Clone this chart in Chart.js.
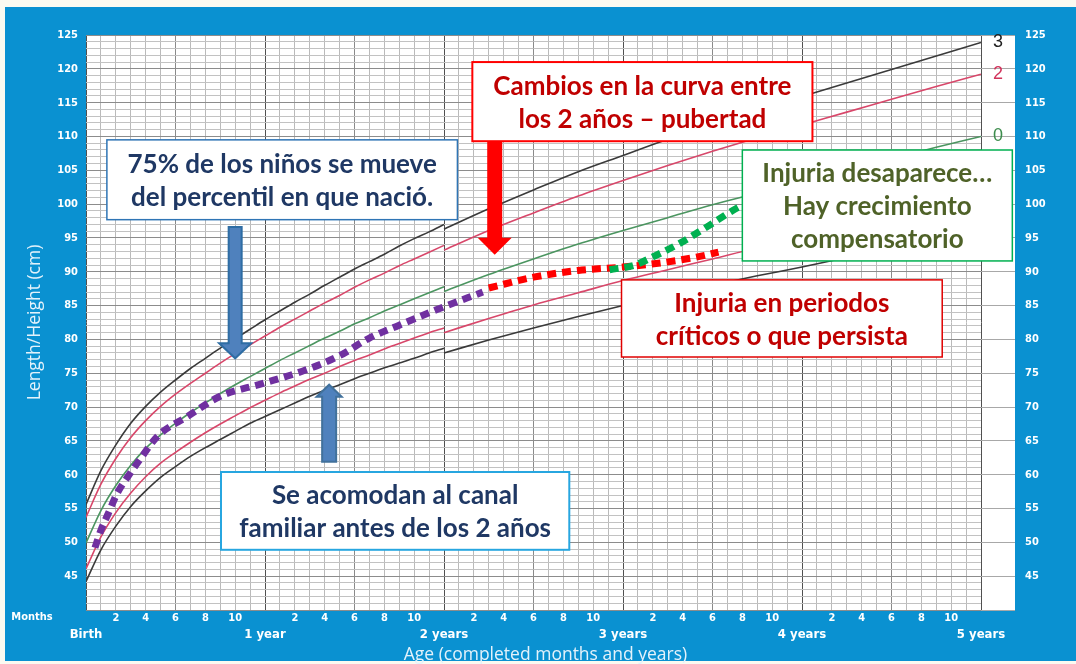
<!DOCTYPE html>
<html>
<head>
<meta charset="utf-8">
<script src="https://cdn.jsdelivr.net/npm/chart.js@4.4.0/dist/chart.umd.min.js"></script>
<style>
  html, body { margin: 0; padding: 0; background: #fbfaf1; }
</style>
</head>
<body>
<canvas id="chart" width="1076" height="664"></canvas>
<script>
// length (0-24 months) and height (24-60 months), z-score curves
var ageLength = [0,1,2,3,4,5,6,7,8,9,10,11,12,13,14,15,16,17,18,19,20,21,22,23,24];
var ageHeight = [24,27,30,33,36,39,42,45,48,51,54,57,60];

var neg3Length = [44.2,48.9,52.4,55.3,57.6,59.6,61.2,62.7,64.0,65.2,66.4,67.6,68.6,69.6,70.6,71.6,72.5,73.3,74.2,75.0,75.8,76.5,77.2,78.0,78.7];
var neg2Length = [46.1,50.8,54.4,57.3,59.7,61.7,63.3,64.8,66.2,67.5,68.7,69.9,71.0,72.1,73.1,74.1,75.0,76.0,76.9,77.7,78.6,79.4,80.2,81.0,81.7];
var zeroLength = [49.9,54.7,58.4,61.4,63.9,65.9,67.6,69.2,70.6,72.0,73.3,74.5,75.7,76.9,78.0,79.1,80.2,81.2,82.3,83.2,84.2,85.1,86.0,86.9,87.8];
var pos2Length = [53.7,58.6,62.4,65.5,68.0,70.1,71.9,73.5,75.0,76.5,77.9,79.2,80.5,81.8,83.0,84.2,85.4,86.5,87.7,88.8,89.8,90.9,91.9,92.9,93.9];
var pos3Length = [55.6,60.6,64.4,67.6,70.1,72.2,74.0,75.7,77.2,78.7,80.1,81.5,82.9,84.2,85.5,86.7,88.0,89.2,90.4,91.5,92.6,93.8,94.9,95.9,97.0];

var neg3Height = [78.0,79.9,81.7,83.4,85.0,86.5,88.0,89.4,90.7,92.1,93.4,94.8,96.1];
var neg2Height = [81.0,83.1,85.1,86.9,88.7,90.3,91.9,93.5,94.9,96.4,97.8,99.3,100.7];
var zeroHeight = [87.1,89.6,91.9,94.1,96.1,98.0,99.9,101.6,103.3,105.0,106.7,108.4,110.0];
var pos2Height = [93.2,96.1,98.7,101.2,103.5,105.7,107.8,109.8,111.7,113.6,115.5,117.4,119.2];
var pos3Height = [96.3,99.3,102.1,104.8,107.2,109.6,111.7,113.9,115.9,117.9,119.9,121.9,123.9];

// child trajectories drawn over the chart
var followAge = [0.6,1.0,1.5,2.1,2.8,3.6,4.8,6.8,9.0,11.7,14.5,17.0,19.0,21.0,23.4,26.6];
var followCm  = [49.2,51.8,54.3,57.3,59.7,62.2,65.7,68.6,71.6,73.4,75.3,77.6,80.2,82.1,84.3,87.0];
var injuryAge = [27.0,30.0,33.0,36.0,38.5,41.0,42.4];
var injuryCm  = [87.6,89.2,90.2,90.7,91.3,92.2,92.9];
var catchAge  = [35.1,36.8,38.0,39.8,41.6,43.8,44.6];
var catchCm   = [90.3,91.0,92.2,94.2,96.6,99.6,100.3];

var yTicks = [45,50,55,60,65,70,75,80,85,90,95,100,105,110,115,120,125];

var BLUE = '#0a91d1';
var STRIP = 34;

function curve(lenVals, hgtVals) {
  var pts = ageLength.map(function (a, i) { return {x: a, y: lenVals[i]}; });
  pts.push({x: 24, y: null});
  return pts.concat(ageHeight.map(function (a, i) { return {x: a, y: hgtVals[i]}; }));
}
function path(ages, vals) {
  return ages.map(function (a, i) { return {x: a, y: vals[i]}; });
}
function line(label, data, color) {
  return {label: label, data: data, borderColor: color, borderWidth: 1.6, pointRadius: 0,
          cubicInterpolationMode: 'monotone', order: 2};
}
function dashed(label, data, color) {
  return {label: label, data: data, borderColor: color, borderWidth: 7, borderDash: [9, 6],
          pointRadius: 0, cubicInterpolationMode: 'monotone', order: 1};
}

var notes = [
  {x0: 1.4, x1: 24.9, y0: 109.5, y1: 97.7, border: '#2f75b5', bw: 1.5, color: '#1f3864',
   lines: ['75% de los niños se mueve', 'del percentil en que nació.']},
  {x0: 25.9, x1: 48.7, y0: 121.0, y1: 109.3, border: '#ff0000', bw: 2, color: '#c00000',
   lines: ['Cambios en la curva entre', 'los 2 años – pubertad']},
  {x0: 44.0, x1: 62.1, y0: 108.0, y1: 91.6, border: '#00b050', bw: 1.5, color: '#4f6228',
   lines: ['Injuria desaparece…', 'Hay crecimiento', 'compensatorio']},
  {x0: 35.9, x1: 57.4, y0: 88.8, y1: 77.4, border: '#e00000', bw: 1.5, color: '#c00000',
   lines: ['Injuria en periodos', 'críticos o que persista']},
  {x0: 9.05, x1: 32.4, y0: 60.4, y1: 48.9, border: '#27a6e0', bw: 2, color: '#1f3864',
   lines: ['Se acomodan al canal', 'familiar antes de los 2 años']}
];
var arrows = [
  {x: 10.0, from: 96.6, to: 77.2, shaft: 13, head: 32, headLen: 15, fill: '#4f81bd', stroke: '#2e6da4'},
  {x: 16.3, from: 61.9, to: 73.3, shaft: 14, head: 25, headLen: 12, fill: '#4f81bd', stroke: '#41719c'},
  {x: 27.4, from: 112.1, to: 92.5, shaft: 15, head: 34, headLen: 17, fill: '#ff0000', stroke: null}
];
var endLabels = [
  {text: '3', value: pos3Height[pos3Height.length - 1], color: '#222222'},
  {text: '2', value: pos2Height[pos2Height.length - 1], color: '#d1335b'},
  {text: '0', value: zeroHeight[zeroHeight.length - 1], color: '#3c8c4c'}
];

var framePlugin = {
  id: 'frame',
  beforeDraw: function (chart) {
    var ctx = chart.ctx, a = chart.chartArea;
    ctx.save();
    ctx.fillStyle = '#fbfaf1';
    ctx.fillRect(0, 0, chart.width, chart.height);
    ctx.fillStyle = BLUE;
    ctx.fillRect(5, 7, chart.width - 5, chart.height - 10);
    ctx.fillStyle = '#ffffff';
    ctx.fillRect(a.left, a.top, a.right - a.left + STRIP, a.bottom - a.top);
    ctx.restore();
  }
};

function drawArrow(ctx, x, yFrom, yTo, sw, hw, hl, fill, stroke) {
  var dir = yTo > yFrom ? 1 : -1;
  var yb = yTo - dir * hl;
  ctx.beginPath();
  ctx.moveTo(x - sw / 2, yFrom);
  ctx.lineTo(x + sw / 2, yFrom);
  ctx.lineTo(x + sw / 2, yb);
  ctx.lineTo(x + hw / 2, yb);
  ctx.lineTo(x, yTo);
  ctx.lineTo(x - hw / 2, yb);
  ctx.lineTo(x - sw / 2, yb);
  ctx.closePath();
  ctx.fillStyle = fill;
  ctx.fill();
  if (stroke) { ctx.strokeStyle = stroke; ctx.lineWidth = 2; ctx.stroke(); }
}

var notesPlugin = {
  id: 'notes',
  afterDatasetsDraw: function (chart) {
    var ctx = chart.ctx, xs = chart.scales.x, ys = chart.scales.y;
    ctx.save();
    endLabels.forEach(function (l) {
      ctx.font = '18px "Liberation Sans", Arial, sans-serif';
      ctx.fillStyle = l.color;
      ctx.textAlign = 'center';
      ctx.textBaseline = 'middle';
      ctx.fillText(l.text, xs.getPixelForValue(60) + 17, ys.getPixelForValue(l.value));
    });
    arrows.forEach(function (r) {
      drawArrow(ctx, xs.getPixelForValue(r.x), ys.getPixelForValue(r.from), ys.getPixelForValue(r.to),
                r.shaft, r.head, r.headLen, r.fill, r.stroke);
    });
    notes.forEach(function (n) {
      var x0 = xs.getPixelForValue(n.x0), x1 = xs.getPixelForValue(n.x1);
      var y0 = ys.getPixelForValue(n.y0), y1 = ys.getPixelForValue(n.y1);
      ctx.fillStyle = '#ffffff';
      ctx.fillRect(x0, y0, x1 - x0, y1 - y0);
      ctx.strokeStyle = n.border;
      ctx.lineWidth = n.bw;
      ctx.strokeRect(x0, y0, x1 - x0, y1 - y0);
      ctx.fillStyle = n.color;
      ctx.font = 'bold 26px Lato, sans-serif';
      ctx.textAlign = 'center';
      ctx.textBaseline = 'middle';
      var cy = (y0 + y1) / 2 + 1.5, lh = 33;
      n.lines.forEach(function (t, i) {
        ctx.fillText(t, (x0 + x1) / 2, cy + (i - (n.lines.length - 1) / 2) * lh);
      });
    });
    // axis captions
    ctx.fillStyle = '#ffffff';
    ctx.font = 'bold 11px "Liberation Sans Narrow", "DejaVu Sans Condensed", sans-serif';
    ctx.textAlign = 'center';
    ctx.textBaseline = 'middle';
    ctx.fillText('Months', 32, xs.top + 7);
    ctx.fillStyle = '#e3f2fb';
    ctx.font = '17.5px "Open Sans", sans-serif';
    ctx.fillText('Age (completed months and years)', xs.getPixelForValue(30.8), chart.height - 9);
    ctx.restore();
  }
};

var tickFont = {family: '"Liberation Sans Narrow", "DejaVu Sans Condensed", sans-serif', size: 11, weight: 'bold'};

new Chart(document.getElementById('chart'), {
  type: 'line',
  data: {
    datasets: [
      line('+3', curve(pos3Length, pos3Height), '#3a3a3a'),
      line('+2', curve(pos2Length, pos2Height), '#d8476a'),
      line('0', curve(zeroLength, zeroHeight), '#4b9560'),
      line('-2', curve(neg2Length, neg2Height), '#d8476a'),
      line('-3', curve(neg3Length, neg3Height), '#3a3a3a'),
      dashed('seguimiento', path(followAge, followCm), '#7030a0'),
      dashed('recuperación', path(catchAge, catchCm), '#00b050'),
      dashed('injuria', path(injuryAge, injuryCm), '#ff0000')
    ]
  },
  options: {
    responsive: false,
    animation: false,
    devicePixelRatio: 1,
    layout: {padding: {left: 5, top: 35, right: 0, bottom: 0}},
    plugins: {legend: {display: false}, tooltip: {enabled: false}},
    scales: {
      x: {
        type: 'linear', position: 'bottom', min: 0, max: 60,
        afterFit: function (s) { s.height = 16; },
        border: {display: false},
        grid: {
          drawTicks: false,
          color: function (c) {
            var v = c.tick.value;
            return v % 12 === 0 ? '#505050' : v % 6 === 0 ? '#8a8a8a' : '#bababa';
          }
        },
        ticks: {
          stepSize: 1, autoSkip: false, maxRotation: 0, padding: 2, color: '#ffffff', font: tickFont,
          callback: function (v) { var m = v % 12; return m % 2 === 0 && m !== 0 ? String(m) : ''; }
        }
      },
      x2: {
        type: 'linear', position: 'bottom', min: 0, max: 60,
        afterFit: function (s) { s.height = 38; },
        border: {display: false},
        grid: {display: false, drawTicks: false},
        ticks: {
          stepSize: 12, autoSkip: false, maxRotation: 0, padding: 1, color: '#ffffff',
          font: {family: '"Liberation Sans Narrow", "DejaVu Sans Condensed", sans-serif', size: 13, weight: 'bold'},
          callback: function (v) { return v === 0 ? 'Birth' : v === 12 ? '1 year' : (v / 12) + ' years'; }
        }
      },
      y: {
        type: 'linear', position: 'left', min: 40, max: 125,
        afterFit: function (s) { s.width = 81; },
        border: {display: false},
        title: {display: true, text: 'Length/Height (cm)', color: '#e3f2fb',
                font: {family: '"Open Sans", sans-serif', size: 17.5}, padding: {top: 20, bottom: 0}},
        grid: {
          drawTicks: false,
          color: function (c) { return c.tick.value % 5 === 0 ? '#8c8c8c' : '#c2c2c2'; }
        },
        ticks: {
          stepSize: 1, autoSkip: false, padding: 8, color: '#ffffff', font: tickFont,
          callback: function (v) { return yTicks.indexOf(v) >= 0 ? String(v) : ''; }
        }
      },
      y2: {
        type: 'linear', position: 'right', min: 40, max: 125,
        afterFit: function (s) { s.width = 95; },
        border: {display: false},
        grid: {drawOnChartArea: false, drawTicks: true, tickLength: STRIP, tickColor: '#a8a8a8'},
        ticks: {
          stepSize: 5, autoSkip: false, padding: 10, color: '#ffffff', font: tickFont,
          callback: function (v) { return yTicks.indexOf(v) >= 0 ? String(v) : ''; }
        }
      }
    }
  },
  plugins: [framePlugin, notesPlugin]
});
</script>
</body>
</html>
